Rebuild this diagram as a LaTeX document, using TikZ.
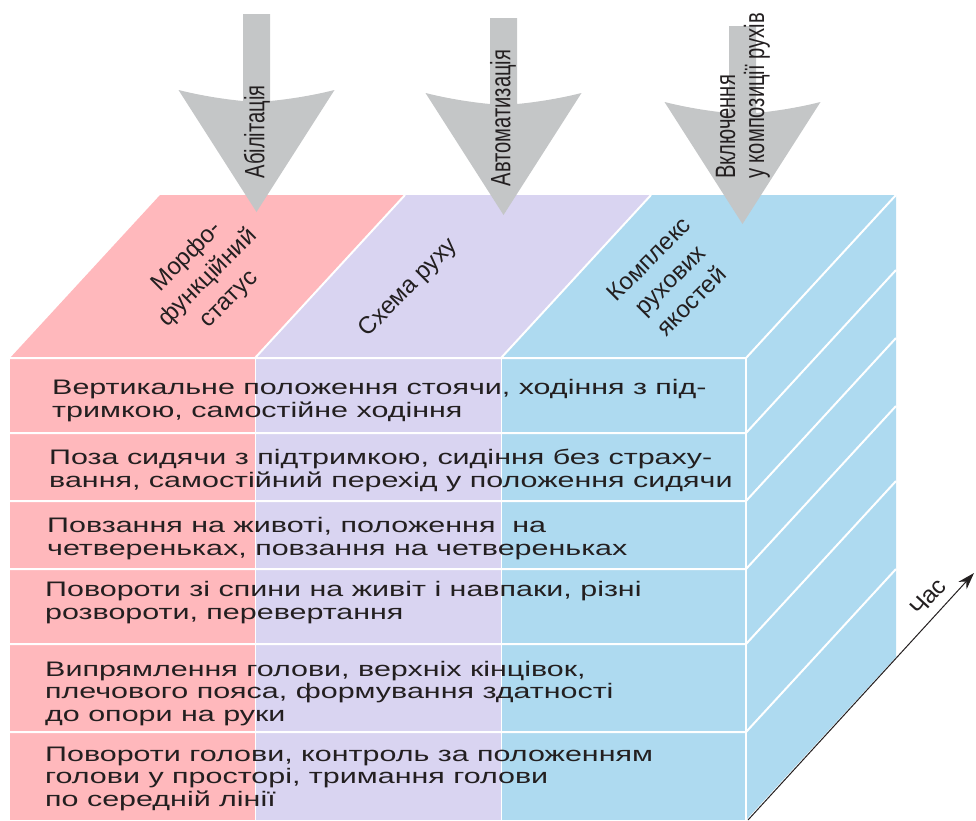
\documentclass[tikz,border=0pt]{standalone}
\usepackage{fontspec}
\setmainfont{Liberation Sans}
\newfontfamily\rowfont[FakeStretch=1.45]{Liberation Sans}
\newfontfamily\arrowfont[FakeStretch=0.72]{Liberation Sans}
\usetikzlibrary{arrows.meta}

\definecolor{pinkface}{RGB}{255,184,188}
\definecolor{lilacface}{RGB}{217,212,241}
\definecolor{blueface}{RGB}{174,218,240}
\definecolor{arrowgray}{RGB}{196,198,199}
\definecolor{ink}{RGB}{35,31,32}

\begin{document}
\begin{tikzpicture}[x=1pt, y=-1pt,
    rowtext/.style={anchor=base west, align=left, inner sep=0pt, text=ink,
      font=\rowfont\fontsize{21}{22.5}\selectfont},
    toptext/.style={rotate=45, align=center, inner sep=0pt, text=ink,
      font=\fontsize{24}{30}\selectfont},
    arrowtext/.style={rotate=90, inner sep=0pt, text=ink,
      font=\arrowfont\fontsize{28}{29}\selectfont},
    edgeline/.style={white, line width=2pt},
    thinline/.style={white, line width=0.8pt}
]
\useasboundingbox (0,0) rectangle (976,820);

% front face
\fill[pinkface] (10,358) rectangle (255,820);
\fill[lilacface] (255,358) rectangle (501,820);
\fill[blueface] (501,358) rectangle (746,820);
% top face
\fill[pinkface] (10,358) -- (160,195) -- (405,195) -- (255,358) -- cycle;
\fill[lilacface] (255,358) -- (405,195) -- (651,195) -- (501,358) -- cycle;
\fill[blueface] (501,358) -- (651,195) -- (896,195) -- (746,358) -- cycle;
% right face
\fill[blueface] (746,358) -- (896,195) -- (896,657) -- (746,820) -- cycle;

% edges
\draw[thinline] (255,358) -- (255,820);
\draw[thinline] (501,358) -- (501,820);
\draw[edgeline] (255,358) -- (405,195);
\draw[edgeline] (501,358) -- (651,195);
\draw[edgeline] (10,358) -- (746,358) -- (896,195);
\draw[edgeline] (746,358) -- (746,820);
\foreach \y in {433,501,569,644,732}
  \draw[edgeline] (10,\y) -- (746,\y) -- ++(150,-163);

% rows (base = last line)
\node[rowtext] (r1) at (52,417) {Вертикальне положення стоячи, ходіння з під-\\тримкою, самостійне ходіння};
\node[rowtext] (r2) at (49,487) {Поза сидячи з підтримкою, сидіння без страху-\\вання, самостійний перехід у положення сидячи};
\node[rowtext] (r3) at (47,555) {Повзання на животі, положення~ на\\четвереньках, повзання на четвереньках};
\node[rowtext] (r4) at (45,619) {Повороти зі спини на живіт і навпаки, різні\\розвороти, перевертання};
\node[rowtext] (r5) at (45,721) {Випрямлення голови, верхніх кінцівок,\\плечового пояса, формування здатності\\до опори на руки};
\node[rowtext] (r6) at (45,806) {Повороти голови, контроль за положенням\\голови у просторі, тримання голови\\по середній лінії};

% top labels
\node[toptext] (morpho) at (208,278) {Морфо-\\функційний\\статус};
\node[toptext] (shema) at (409,288) {Схема руху};
\node[toptext] (kompl) at (670,280) {Комплекс\\рухових\\якостей};

% big arrows
\foreach \cx/\ytop/\yb in {256.5/14/90, 503.5/18/93, 742.5/26/102}
  \fill[arrowgray] ({\cx-13.5},\ytop) -- ({\cx-13.5},{\yb+11})
    .. controls ({\cx-35},{\yb+9}) and ({\cx-58},{\yb+5}) .. ({\cx-78},\yb)
    -- (\cx,{\yb+122}) -- ({\cx+78},\yb)
    .. controls ({\cx+58},{\yb+5}) and ({\cx+35},{\yb+9}) .. ({\cx+13.5},{\yb+11})
    -- ({\cx+13.5},\ytop) -- cycle;
\node[arrowtext] (abil) at (257,132) {Абілітація};
\node[arrowtext] (avto) at (503,118) {Автоматизація};
\node[arrowtext, anchor=west, align=left] (vkl) at (743,179) {Включення\\у композиції рухів};

% time axis
\coordinate (t0) at (748,820);
\coordinate (t1) at (974,573);
\draw[ink, line width=1pt, -{Stealth[length=17pt, width=11pt]}] (t0) -- (t1);
\node[rotate=47.5, inner sep=0pt, text=ink, font=\fontsize{24}{28}\selectfont] (chas) at (928,597) {Час};
\end{tikzpicture}
\end{document}
